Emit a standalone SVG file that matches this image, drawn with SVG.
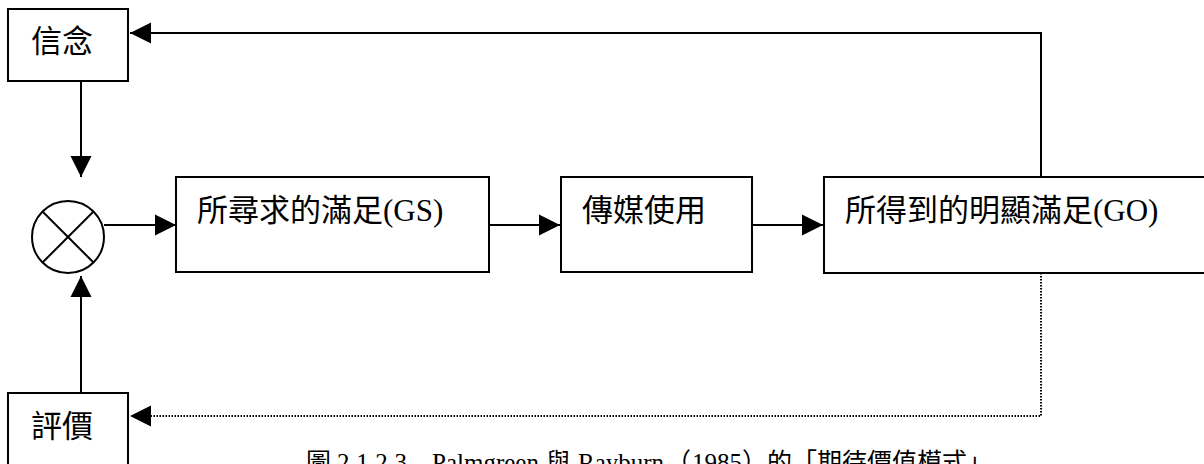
<svg xmlns="http://www.w3.org/2000/svg" width="1204" height="464" viewBox="0 0 1204 464">
<style>
.box{fill:#fff;stroke:#000;stroke-width:2}
.lbl{font-family:"Liberation Serif","Noto Sans CJK TC",serif;font-size:31px;fill:#000}
.cap{font-family:"Liberation Serif","Noto Sans CJK TC",serif;font-size:25px;fill:#000}
.ln{fill:none;stroke:#000;stroke-width:2}
.dot{fill:none;stroke:#000;stroke-width:2;stroke-dasharray:1.5 1.5}
</style>
<defs>
<marker id="ah" markerUnits="userSpaceOnUse" markerWidth="22" markerHeight="22" viewBox="0 0 22 22" refX="21" refY="11" orient="auto">
<path d="M0,0.5 L21,11 L0,21.5 Z" fill="#000"/>
</marker>
</defs>
<rect width="1204" height="464" fill="#fff"/>
<g id="connectors">
<polyline class="ln" points="1041,177 1041,33 130,33" marker-end="url(#ah)"/>
<line class="ln" x1="81" y1="81" x2="81" y2="177" marker-end="url(#ah)"/>
<line class="ln" x1="104" y1="225" x2="176" y2="225" marker-end="url(#ah)"/>
<line class="ln" x1="489" y1="225" x2="560" y2="225" marker-end="url(#ah)"/>
<line class="ln" x1="752" y1="225" x2="823" y2="225" marker-end="url(#ah)"/>
<polyline class="dot" points="1041,273 1041,416 150,416"/>
<path d="M130,416 L151,405.5 L151,426.5 Z" fill="#000"/>
<line class="ln" x1="81" y1="393" x2="81" y2="276" marker-end="url(#ah)"/>
</g>
<g id="belief">
<rect class="box" x="8" y="9" width="120" height="72"/>
<text class="lbl" x="31" y="52">信念</text>
</g>
<g id="combine">
<circle cx="68" cy="237" r="36" fill="#fff" stroke="#000" stroke-width="2"/>
<line class="ln" x1="42.5" y1="211.5" x2="93.5" y2="262.5"/>
<line class="ln" x1="93.5" y1="211.5" x2="42.5" y2="262.5"/>
</g>
<g id="gs">
<rect class="box" x="176" y="177" width="313" height="95"/>
<text class="lbl" x="197" y="221">所尋求的滿足(GS)</text>
</g>
<g id="media">
<rect class="box" x="561" y="177" width="191" height="95"/>
<text class="lbl" x="582" y="221">傳媒使用</text>
</g>
<g id="go">
<rect class="box" x="824" y="177" width="400" height="96"/>
<text class="lbl" x="845" y="221">所得到的明顯滿足(GO)</text>
</g>
<g id="evaluation">
<rect class="box" x="8" y="393" width="120" height="90"/>
<text class="lbl" x="31" y="437">評價</text>
</g>
<g id="caption">
<text class="cap" y="471"><tspan x="306">圖</tspan><tspan x="337" textLength="70" lengthAdjust="spacing">2.1.2.3</tspan><tspan x="432">Palmgreen</tspan><tspan x="546">與</tspan><tspan x="578">Rayburn</tspan><tspan x="666">（</tspan><tspan x="692">1985</tspan><tspan x="742">）的「期待</tspan><tspan x="867">價值模式」</tspan></text>
</g>
</svg>
